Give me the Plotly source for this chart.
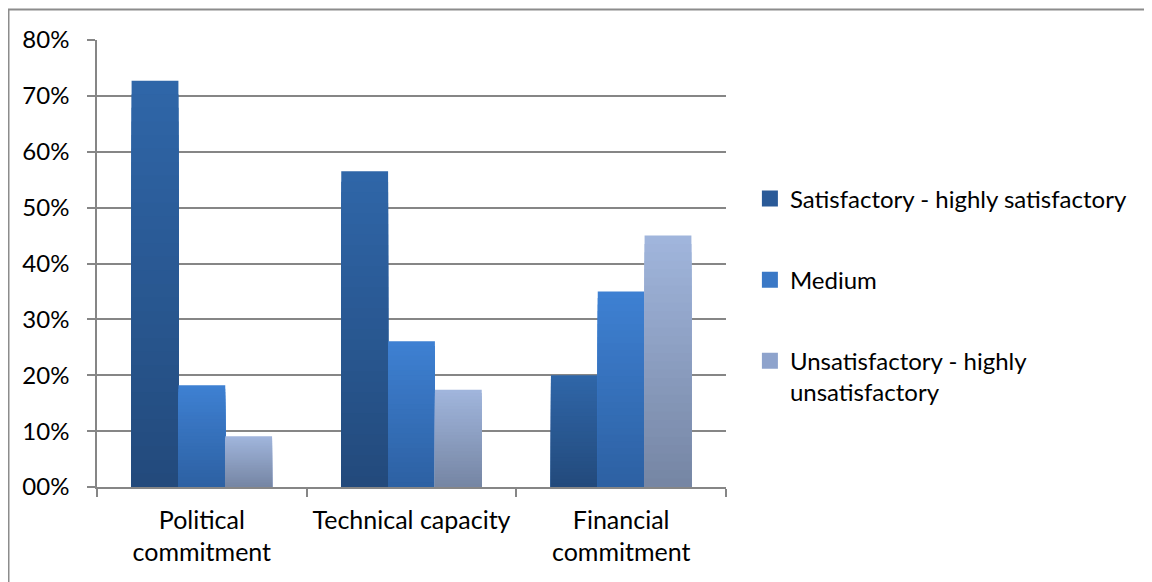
import plotly.graph_objects as go

# ---- data ----
categories = ["Political<br>commitment", "Technical capacity", "Financial<br>commitment"]
series_names = ["Satisfactory - highly satisfactory", "Medium", "Unsatisfactory - highly<br>unsatisfactory"]
satisfactory = [0.727, 0.565, 0.20]
medium = [0.182, 0.261, 0.35]
unsatisfactory = [0.091, 0.174, 0.45]
y_tick_vals = [0, 0.1, 0.2, 0.3, 0.4, 0.5, 0.6, 0.7, 0.8]
y_tick_text = ["00%", "10%", "20%", "30%", "40%", "50%", "60%", "70%", "80%"]

# ---- styles ----
# (top colour, bottom colour, legend colour)
styles = [
    ((47, 102, 168), (35, 74, 124), "#2A5A98"),
    ((62, 128, 210), (45, 97, 163), "#3A78C6"),
    ((160, 181, 220), (118, 134, 164), "#8EA3CC"),
]
N_LAYERS = 30
FONT = "Lato"
FS = 25

# figure is placed by the page at an 8px body offset
W, H = 1144, 574
L, R, T, B = 89, 426, 32, 95
PW, PH = W - L - R, H - T - B


def px_x(fx):
    return (fx - L) / PW


def px_y(fy):
    return (H - B - fy) / PH


fig = go.Figure()
all_series = [satisfactory, medium, unsatisfactory]
for si, (name, vals) in enumerate(zip(series_names, all_series)):
    top, bot, leg = styles[si]
    for k in range(N_LAYERS):
        t = k / (N_LAYERS - 1)
        col = tuple(round(top[c] + (bot[c] - top[c]) * t) for c in range(3))
        frac = (N_LAYERS - k) / N_LAYERS
        fig.add_trace(go.Bar(
            x=categories,
            y=[v * frac for v in vals],
            name=name,
            offsetgroup=str(si),
            legendgroup=str(si),
            showlegend=False,
            marker=dict(color="rgb(%d,%d,%d)" % col, line=dict(width=0)),
            hoverinfo="skip" if k else None,
            customdata=vals,
            hovertemplate="%{customdata:.1%}<extra></extra>",
        ))
    # legend-only entry (square marker)
    fig.add_trace(go.Scatter(
        x=[None], y=[None], name=name, legendgroup=str(si), mode="markers",
        showlegend=True,
        marker=dict(symbol="square", size=16, color=leg, line=dict(width=0)),
    ))

fig.update_layout(
    width=W, height=H,
    margin=dict(l=L, r=R, t=T, b=B, autoexpand=False),
    paper_bgcolor="white", plot_bgcolor="white",
    barmode="group", bargap=0.33, bargroupgap=0,
    font=dict(family=FONT, size=FS, color="#000000"),
    showlegend=True,
    legend=dict(
        x=1.038, y=0.695, xanchor="left", yanchor="top",
        traceorder="grouped", tracegroupgap=47, valign="top",
        font=dict(family=FONT, size=24, color="#000000"),
        itemwidth=30, bgcolor="rgba(0,0,0,0)",
    ),
    xaxis=dict(
        showline=True, linecolor="#868686", linewidth=1.5,
        ticks="outside", ticklen=8, tickcolor="#868686", tickwidth=1.5,
        tickson="boundaries", showgrid=False, zeroline=False,
        tickfont=dict(family=FONT, size=FS), ticklabelstandoff=10,
        tickangle=0, automargin=False,
    ),
    yaxis=dict(
        range=[0, 0.8], tickvals=y_tick_vals, ticktext=y_tick_text,
        showline=True, linecolor="#868686", linewidth=1.5,
        ticks="outside", ticklen=8, tickcolor="#868686", tickwidth=1.5,
        showgrid=True, gridcolor="#868686", gridwidth=1.5, zeroline=False,
        tickfont=dict(family=FONT, size=24), ticklabelstandoff=13,
        automargin=False,
    ),
    shapes=[
        dict(type="line", xref="paper", yref="paper",
             x0=px_x(0), x1=px_x(W + 10),
             y0=px_y(1.5), y1=px_y(1.5),
             line=dict(color="#8c8c8c", width=2)),
        dict(type="line", xref="paper", yref="paper",
             x0=px_x(0.5), x1=px_x(0.5),
             y0=px_y(1), y1=px_y(H + 10),
             line=dict(color="#8c8c8c", width=2)),
    ],
)

fig.write_html("out.html")
